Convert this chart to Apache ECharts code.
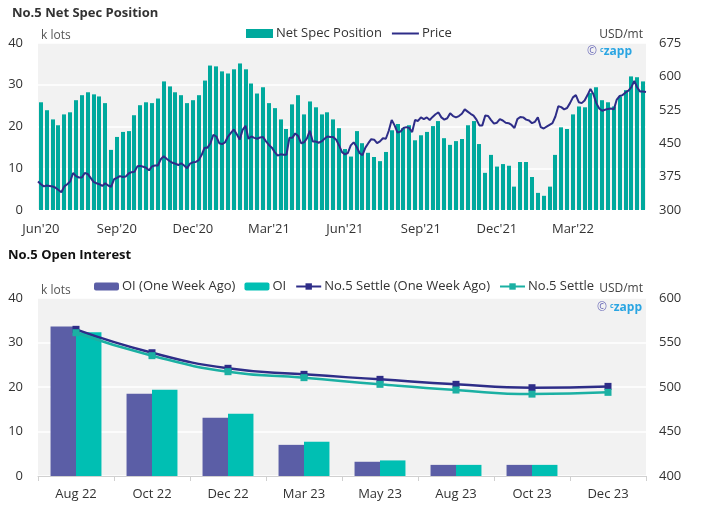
<!DOCTYPE html>
<html><head><meta charset="utf-8">
<script src="https://cdn.jsdelivr.net/npm/echarts@6/dist/echarts.min.js"></script>
<style>html,body{margin:0;padding:0;background:#fff}#c{width:705px;height:511px}</style>
</head><body><div id="c"></div>
<script>
// ---- data ----
const firstWeek = '2020-06-02';
const weekCount = 104;
const netSpec = [
  25.8, 23.9, 21.7, 20.3, 22.9, 23.4, 26.3, 27.5, 28.2, 27.7, 27.2, 25.6, 14.4, 17.5, 18.7, 18.9, 22.7, 25.1, 25.8, 25.6, 26.7, 30.8, 29.6, 28.2, 27.5, 25.6,
  26.3, 27.5, 31.0, 34.6, 34.4, 33.2, 32.7, 33.7, 35.1, 33.7, 30.3, 27.9, 29.4, 25.6, 24.4, 21.7, 19.4, 25.3, 27.5, 22.9, 26.0, 24.6, 22.9, 23.4, 21.7, 19.6, 14.6,
  12.8, 18.9, 16.0, 13.7, 12.7, 11.7, 13.9, 19.1, 20.6, 19.6, 20.3, 16.7, 17.9, 18.7, 20.1, 21.3, 17.2, 15.6, 16.5, 17.0, 20.3, 21.3, 15.8, 8.9, 13.2, 10.4,
  11.0, 10.6, 5.6, 11.5, 11.5, 7.9, 4.1, 3.4, 5.6, 13.2, 19.8, 19.4, 22.9, 24.8, 24.6, 28.0, 29.4, 26.3, 25.8, 24.8, 27.2, 28.7, 32.0, 31.8, 30.8
];
// price sampled every half week, starting half a week before the first bar
const priceStartWeek = -0.5;
const priceStepWeeks = 0.5;
const price = [
  364, 358, 353, 355, 354, 353, 350, 345, 340, 353,
  358, 364, 383, 376, 373, 373, 383, 381, 372, 363,
  360, 358, 354, 360, 355, 352, 369, 372, 376, 374,
  375, 382, 385, 386, 398, 399, 397, 395, 389, 398,
  400, 400, 414, 421, 415, 410, 406, 404, 401, 405,
  400, 394, 404, 407, 408, 412, 424, 440, 440, 450,
  469, 465, 450, 448, 452, 465, 473, 481, 470, 458,
  480, 489, 460, 465, 462, 460, 463, 464, 454, 446,
  440, 430, 422, 425, 424, 424, 462, 462, 472, 466,
  450, 452, 461, 478, 454, 454, 451, 454, 460, 465,
  464, 464, 458, 445, 430, 425, 428, 445, 452, 442,
  428, 423, 440, 450, 459, 458, 450, 454, 461, 460,
  478, 502, 490, 474, 476, 484, 486, 484, 475, 502,
  500, 508, 504, 508, 502, 509, 515, 519, 508, 503,
  506, 517, 511, 508, 511, 516, 526, 521, 516, 512,
  503, 490, 490, 512, 511, 502, 494, 496, 504, 501,
  496, 495, 491, 484, 504, 509, 508, 503, 501, 495,
  498, 508, 486, 483, 487, 491, 495, 510, 533, 531,
  526, 529, 540, 553, 558, 542, 540, 546, 558, 572,
  560, 540, 528, 523, 525, 527, 528, 526, 548, 556,
  558, 564, 568, 576, 590, 575, 566, 566, 565
];
const xTickLabels = ["Jun'20", "Sep'20", "Dec'20", "Mar'21", "Jun'21", "Sep'21", "Dec'21", "Mar'22"];
const xTickEvery = 13;

const oiMonths = ['Aug 22', 'Oct 22', 'Dec 22', 'Mar 23', 'May 23', 'Aug 23', 'Oct 23', 'Dec 23'];
const oiWeekAgo = [33.6, 18.5, 13.1, 7.0, 3.2, 2.5, 2.5, null];
const oiNow = [32.3, 19.4, 14.0, 7.7, 3.5, 2.5, 2.5, null];
const settleWeekAgo = [564.8, 538.5, 521.0, 514.2, 508.6, 503.0, 499.2, 500.7];
const settleNow = [561.0, 535.2, 517.2, 510.5, 503.0, 496.6, 492.0, 494.0];

// ---- build ----
const weeks = [];
const t0 = Date.parse(firstWeek + 'T00:00:00Z');
for (let i = 0; i < weekCount; i++) weeks.push(new Date(t0 + i * 7 * 864e5).toISOString().slice(0, 10));
const priceData = price.map((v, k) => [priceStartWeek + k * priceStepWeeks, v]);
const netSpecData = netSpec.map((v, i) => [i, v]);

const FONT = '"Open Sans", "Noto Sans", sans-serif';
const txt = '#333';
const teal = '#00a99d';
const teal2 = '#00bfb3';
const navy = '#2e2d88';
const purple = '#5b5ea6';
const settleTeal = '#1bb0a3';

const chart = echarts.init(document.getElementById('c'), null, {renderer: 'canvas'});
const axisLab = {fontSize: 13, color: txt, fontFamily: FONT};
const wmRich = {
  a: {fontSize: 12, fill: '#6f6fba', fontFamily: FONT},
  s: {fontSize: 12, fill: '#6f6fba', fontFamily: FONT},
  b: {fontSize: 7, fill: '#2aa5e2', fontFamily: FONT, fontWeight: 'bold', verticalAlign: 'top', padding: [0, 0, 3, 0]},
  c: {fontSize: 12, fill: '#2aa5e2', fontFamily: FONT, fontWeight: 'bold'}
};
// crisp weekly bars: positions come from the axis scale, snapped to whole pixels
function renderWeekBar(params, api) {
  const top = api.coord([api.value(0), api.value(1)]);
  const base = api.coord([api.value(0), 0]);
  const w = 4;
  const x = Math.round(top[0] - w / 2);
  return {type: 'rect', shape: {x: x, y: top[1], width: w, height: base[1] - top[1]},
          style: {fill: teal}};
}
chart.setOption({
  animation: false,
  textStyle: {fontFamily: FONT},
  title: [
    {text: 'No.5 Net Spec Position', left: 12, top: 7, padding: 0,
     textStyle: {fontSize: 13, fontWeight: 'bold', color: '#333', fontFamily: FONT}},
    {text: 'No.5 Open Interest', left: 8, top: 249, padding: 0,
     textStyle: {fontSize: 13, fontWeight: 'bold', color: '#111', fontFamily: FONT}}
  ],
  legend: [
    {data: [{name: 'Net Spec Position', icon: 'rect', itemStyle: {color: teal}},
            {name: 'Price', itemStyle: {color: 'rgba(0,0,0,0)', borderWidth: 0, opacity: 0}}],
     left: 246, top: 27, padding: 0,
     itemWidth: 27, itemHeight: 9, itemGap: 9,
     textStyle: {fontSize: 13, color: txt, fontFamily: FONT, padding: [0, 0, 0, -2]}},
    {data: ['OI (One Week Ago)', 'OI', 'No.5 Settle (One Week Ago)', 'No.5 Settle'], left: 94, top: 280, padding: 0,
     itemWidth: 25, itemHeight: 8, itemGap: 9,
     textStyle: {fontSize: 13, color: txt, fontFamily: FONT, padding: [0, 0, 0, -2]}}
  ],
  grid: [
    {left: 38, top: 43, width: 608, height: 167, show: true, backgroundColor: '#f2f2f2', borderWidth: 0},
    {left: 38, top: 298, width: 608, height: 178, show: true, backgroundColor: '#f2f2f2', borderWidth: 0}
  ],
  xAxis: [
    {type: 'category', gridIndex: 0, data: weeks, boundaryGap: true,
     axisLine: {show: false}, axisTick: {show: false},
     axisLabel: Object.assign({}, axisLab, {margin: 13,
       interval: (idx) => idx % xTickEvery === 0,
       formatter: (v) => xTickLabels[Math.round(weeks.indexOf(v) / xTickEvery)] || ''})},
    {type: 'value', gridIndex: 0, min: -0.5, max: weekCount - 0.5, show: false},
    {type: 'category', gridIndex: 1, data: oiMonths,
     axisLine: {show: true, lineStyle: {color: '#d0d0d0', width: 1}},
     axisTick: {show: true, length: 5, lineStyle: {color: '#d0d0d0'}},
     axisLabel: Object.assign({}, axisLab, {margin: 12})}
  ],
  yAxis: [
    {type: 'value', gridIndex: 0, position: 'left', min: 0, max: 40, interval: 10,
     axisLine: {show: false}, axisTick: {show: false},
     splitLine: {show: true, lineStyle: {color: '#ffffff', width: 1.5}},
     axisLabel: Object.assign({}, axisLab, {margin: 15})},
    {type: 'value', gridIndex: 0, position: 'right', min: 300, max: 675, interval: 75,
     axisLine: {show: false}, axisTick: {show: false}, splitLine: {show: false},
     axisLabel: Object.assign({}, axisLab, {margin: 13})},
    {type: 'value', gridIndex: 1, position: 'left', min: 0, max: 40, interval: 10,
     axisLine: {show: false}, axisTick: {show: false},
     splitLine: {show: true, lineStyle: {color: '#ffffff', width: 1.5}},
     axisLabel: Object.assign({}, axisLab, {margin: 15})},
    {type: 'value', gridIndex: 1, position: 'right', min: 400, max: 600, interval: 50,
     axisLine: {show: false}, axisTick: {show: false}, splitLine: {show: false},
     axisLabel: Object.assign({}, axisLab, {margin: 13})}
  ],
  series: [
    {name: 'Net Spec Position', type: 'custom', xAxisIndex: 0, yAxisIndex: 0, data: netSpecData,
     renderItem: renderWeekBar, itemStyle: {color: teal}, encode: {x: 0, y: 1}},
    {name: 'Price', type: 'line', xAxisIndex: 1, yAxisIndex: 1, data: priceData,
     symbol: 'none', showSymbol: false, lineStyle: {color: navy, width: 2}, itemStyle: {color: navy}, z: 3},
    {name: 'OI (One Week Ago)', type: 'bar', xAxisIndex: 2, yAxisIndex: 2, data: oiWeekAgo,
     barGap: '0%', barCategoryGap: '33%', itemStyle: {color: purple}},
    {name: 'OI', type: 'bar', xAxisIndex: 2, yAxisIndex: 2, data: oiNow,
     barGap: '0%', barCategoryGap: '33%', itemStyle: {color: teal2}},
    {name: 'No.5 Settle (One Week Ago)', type: 'line', xAxisIndex: 2, yAxisIndex: 3, data: settleWeekAgo,
     smooth: true, symbol: 'rect', symbolSize: 7, lineStyle: {color: navy, width: 2.5},
     itemStyle: {color: navy}, z: 3},
    {name: 'No.5 Settle', type: 'line', xAxisIndex: 2, yAxisIndex: 3, data: settleNow,
     smooth: true, symbol: 'rect', symbolSize: 7, lineStyle: {color: settleTeal, width: 2.5},
     itemStyle: {color: settleTeal}, z: 4}
  ],
  graphic: [
    {type: 'text', left: 41, top: 30, style: {text: 'k lots', font: '12px ' + FONT, fill: '#555'}},
    {type: 'text', right: 62, top: 29, style: {text: 'USD/mt', font: '12px ' + FONT, fill: '#444'}},
    {type: 'text', left: 41, top: 285, style: {text: 'k lots', font: '12px ' + FONT, fill: '#555'}},
    {type: 'text', right: 62, top: 283, style: {text: 'USD/mt', font: '12px ' + FONT, fill: '#444'}},
    {type: 'text', right: 73, top: 46, style: {text: '{a|©}{s| }{b|c}{c|zapp}', rich: wmRich}},
    {type: 'text', right: 63, top: 302, style: {text: '{a|©}{s| }{b|c}{c|zapp}', rich: wmRich}}
  ]
});
</script>
</body></html>
